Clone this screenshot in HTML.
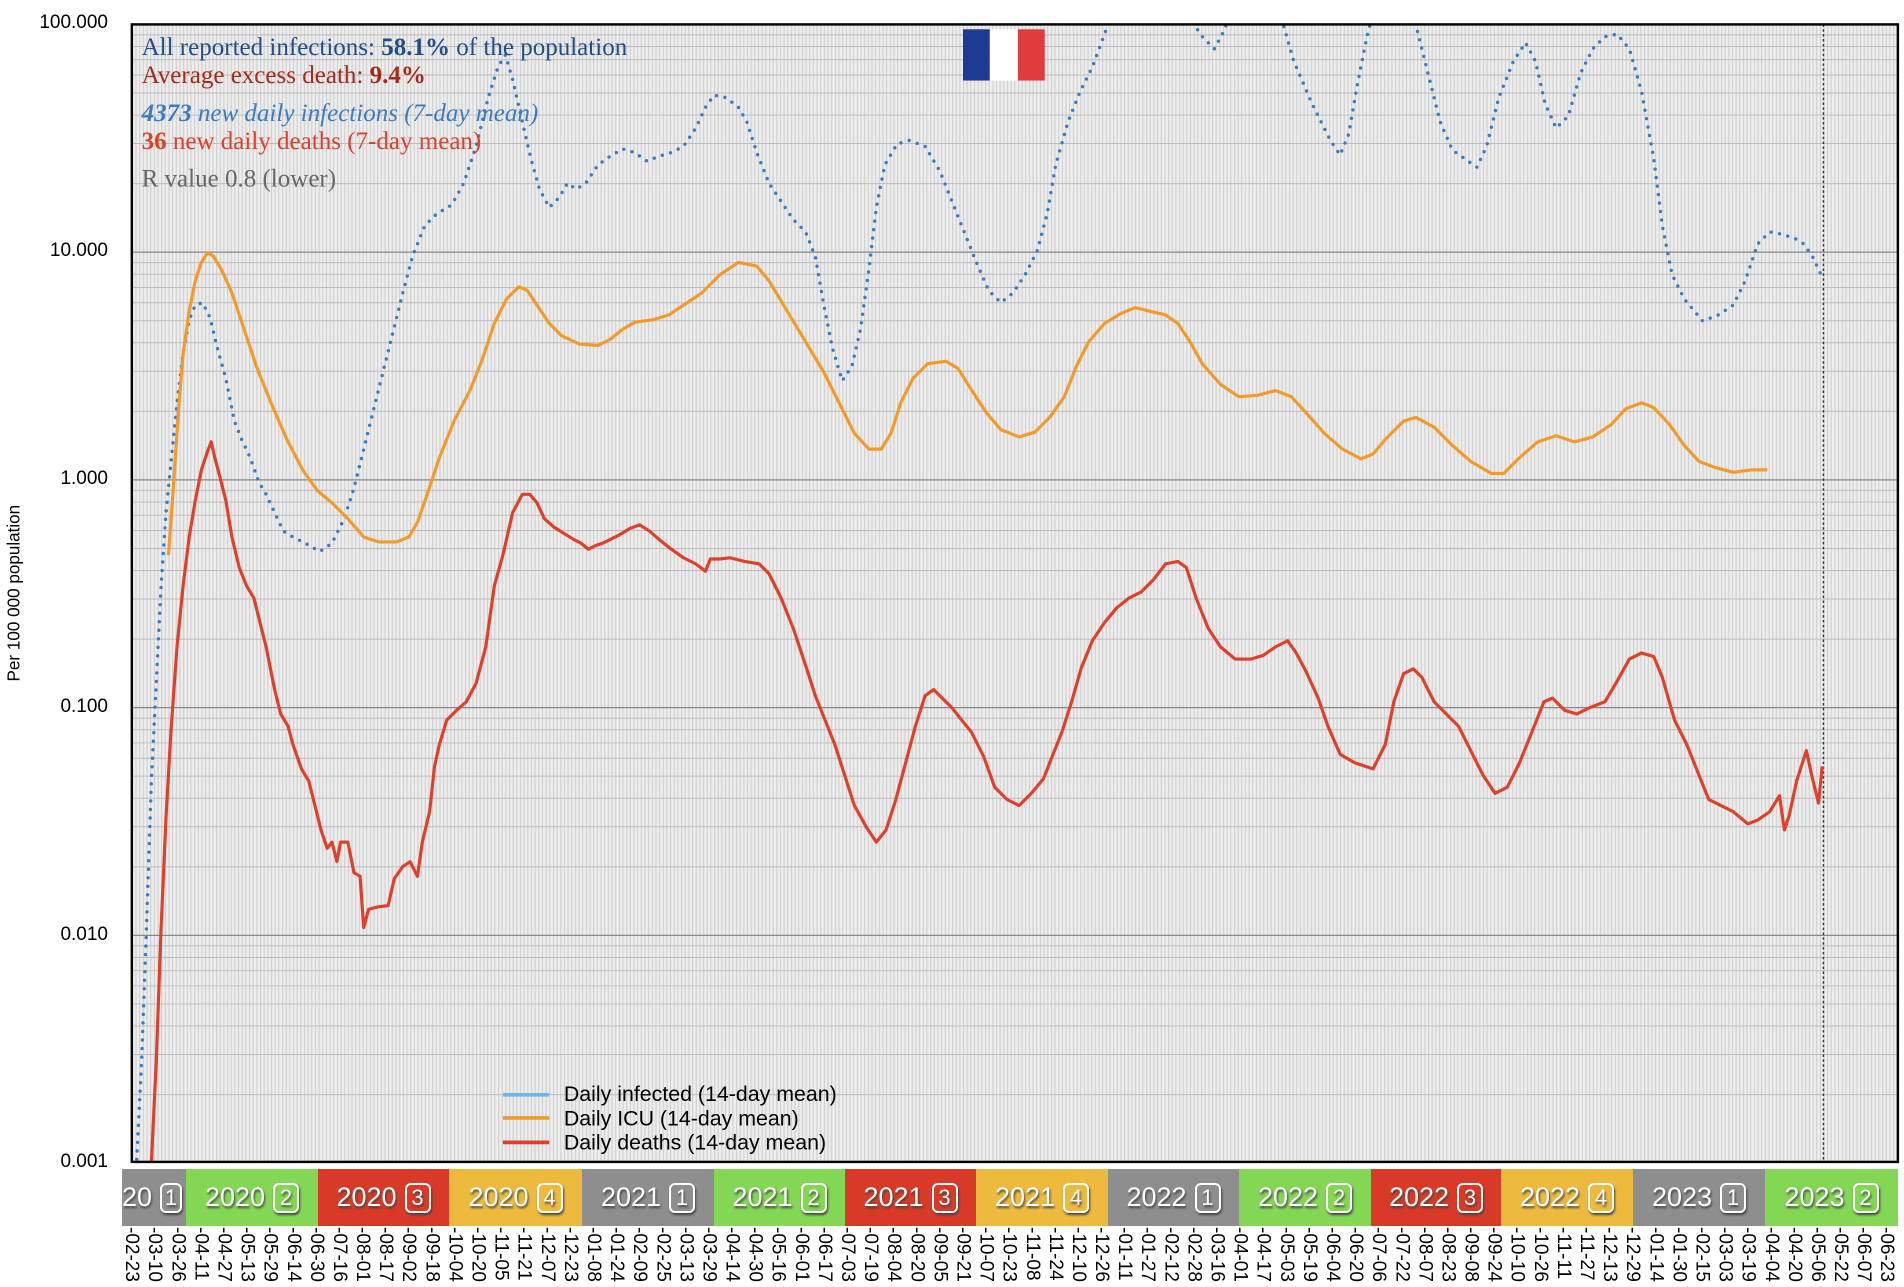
<!DOCTYPE html>
<html><head><meta charset="utf-8"><style>
body{margin:0;width:1904px;height:1272px;background:#fff;overflow:hidden;position:relative;font-family:"Liberation Sans",sans-serif}
.yl{position:absolute;right:1796px;font-size:19px;color:#000;text-align:right}
.band{position:absolute;top:1169px;height:57px;color:#fff;font-size:27px;font-weight:normal;display:flex;align-items:center;justify-content:center;text-shadow:1px 2px 2px #444;white-space:nowrap;overflow:hidden}
.band b{font-weight:normal;display:inline-block;border:2px solid #fff;border-radius:6px;width:22px;height:26px;line-height:26px;text-align:center;font-size:22px;margin-left:8px;box-shadow:1px 2px 2px #444}
.dates{position:absolute;top:1227px;left:120px;display:flex}
.dates span{width:23.1px;writing-mode:vertical-rl;font-size:19px;line-height:23.1px;height:60px;text-align:left;white-space:nowrap}
</style></head><body>
<svg width="1904" height="1272" viewBox="0 0 1560 1042.2" style="position:absolute;left:0;top:0">
<defs>
<pattern id="vs" width="3" height="10" patternUnits="userSpaceOnUse"><rect width="3" height="10" fill="#ededed"/><rect x="0" width="0.9" height="10" fill="#cfcfcf"/></pattern>
<clipPath id="cp"><rect x="108" y="20" width="1447" height="932"/></clipPath>
</defs>
<rect x="108" y="20" width="1447" height="932" fill="url(#vs)"/>
<g id="hg" stroke="#bdbdbd" stroke-width="0.8"></g>
<g stroke="#888" stroke-width="1">
<line x1="108" x2="1555" y1="206.6" y2="206.6"/><line x1="108" x2="1555" y1="393.2" y2="393.2"/><line x1="108" x2="1555" y1="579.8" y2="579.8"/><line x1="108" x2="1555" y1="766.4" y2="766.4"/>
</g>
<line x1="1494" x2="1494" y1="20" y2="952" stroke="#333" stroke-width="1.2" stroke-dasharray="2 2"/>
<g clip-path="url(#cp)" fill="none" stroke-linejoin="round">
<polyline stroke="#3a7cc4" stroke-width="2.8" stroke-linecap="round" stroke-dasharray="0 7" points="112,950 116,870 120,760 124,640 128,560 132,480 136,420 140,380 145,330 150,290 155,262 160,250 166,248 172,260 178,285 185,310 192,345 198,360 205,375 212,395 218,405 225,420 232,435 240,440 250,445 262,452 272,445 282,425 290,400 300,360 310,320 320,280 330,240 338,210 348,185 358,175 370,168 380,150 390,120 400,80 408,55 414,45 420,65 428,100 435,130 442,155 450,170 458,162 465,150 472,155 480,150 490,135 500,128 510,122 520,125 530,132 540,128 550,125 560,120 570,105 578,88 585,78 595,80 605,88 612,100 620,125 630,150 640,165 650,180 660,190 668,210 675,250 682,285 690,312 698,300 705,270 712,220 718,170 725,135 735,118 745,115 758,120 770,140 780,165 790,190 800,215 810,238 820,248 830,240 840,225 850,205 858,175 865,135 875,100 885,75 895,55 905,28 915,0 960,-20 975,15 985,30 995,40 1003,25 1015,-10 1045,-5 1050,15 1060,50 1075,85 1090,115 1098,127 1105,110 1112,70 1120,30 1128,0 1150,-10 1160,20 1170,60 1180,100 1190,123 1200,130 1210,137 1218,120 1228,80 1240,50 1250,35 1258,50 1266,85 1275,105 1285,95 1295,60 1305,40 1315,30 1325,28 1335,40 1345,75 1355,130 1362,185 1370,225 1380,245 1395,263 1408,258 1420,250 1430,230 1440,200 1450,190 1460,192 1470,195 1478,200 1485,210 1492,225"/>
<polyline stroke="#f39a2b" stroke-width="2.6" points="138,455 142,400 146,340 150,290 155,255 160,230 165,215 170,207 175,210 182,222 190,240 200,270 210,300 222,330 235,360 248,385 260,402 272,412 285,425 298,440 310,444 325,444 335,440 342,428 350,405 360,375 372,345 385,320 395,295 405,265 415,245 425,235 432,238 440,250 450,265 460,275 475,282 490,283 500,278 510,270 520,264 535,262 548,258 560,250 575,240 590,225 605,215 620,218 630,230 645,255 660,280 675,305 690,335 700,355 712,368 722,368 730,355 738,330 748,310 760,298 775,296 785,302 795,318 808,338 820,352 835,358 848,354 860,342 872,325 882,300 892,280 905,265 918,257 930,252 942,255 955,258 965,265 975,280 985,298 1000,315 1015,325 1030,324 1045,320 1058,325 1070,338 1085,355 1100,368 1115,376 1125,372 1135,360 1150,345 1160,342 1175,350 1190,365 1205,378 1222,388 1232,388 1245,375 1260,362 1275,357 1290,362 1305,358 1320,348 1332,335 1345,330 1355,334 1368,348 1380,365 1392,378 1405,383 1420,387 1435,385 1448,385"/>
<polyline stroke="#e0402a" stroke-width="2.6" points="124,953 128,870 132,760 136,670 140,600 145,530 150,480 155,440 160,410 165,385 170,370 173,362 176,375 180,390 185,410 190,440 196,465 202,480 208,490 213,510 218,530 225,565 230,585 236,595 240,610 247,630 253,640 258,660 263,680 268,695 272,690 276,706 279,690 285,690 290,715 295,718 298,760 302,745 310,743 318,742 323,720 330,710 336,706 342,718 346,690 352,665 356,628 360,610 366,590 374,582 382,575 390,560 398,530 405,480 412,455 420,420 428,405 434,405 440,412 446,425 454,432 462,437 470,442 476,445 482,450 488,447 494,445 500,442 508,438 516,433 524,430 532,435 540,442 550,450 560,457 570,462 578,468 582,458 590,458 598,457 610,460 622,462 630,470 640,490 650,515 660,545 668,570 676,590 684,610 692,635 700,660 710,678 718,690 726,680 734,655 742,625 750,595 758,570 765,565 772,572 780,580 788,590 796,600 806,620 815,645 825,655 835,660 845,650 855,638 862,620 870,600 878,575 886,547 895,525 905,510 915,498 925,490 935,485 945,475 955,462 965,460 972,465 980,490 990,515 1000,530 1012,540 1025,540 1035,537 1045,530 1055,525 1062,535 1070,550 1080,572 1088,595 1098,618 1110,625 1125,630 1135,610 1142,575 1150,552 1158,548 1165,555 1175,575 1185,585 1195,595 1205,615 1215,635 1225,650 1235,645 1245,625 1255,600 1265,575 1272,572 1282,582 1292,585 1302,580 1315,575 1325,558 1335,540 1345,535 1355,538 1362,555 1372,590 1382,610 1390,630 1400,655 1410,660 1420,665 1432,675 1440,672 1450,665 1458,652 1462,680 1466,668 1472,640 1480,615 1485,638 1490,658 1493,628"/>
</g>
<rect x="108" y="20" width="1447" height="932" fill="none" stroke="#000" stroke-width="2"/>
<g>
<rect x="789" y="24" width="22" height="42" fill="#1f3a93"/><rect x="811" y="24" width="23" height="42" fill="#fff"/><rect x="834" y="24" width="22" height="42" fill="#e03c3c"/>
</g>
<g font-family="Liberation Serif, serif" font-size="20.5">
<text x="116" y="45" fill="#1f4e8c">All reported infections: <tspan font-weight="bold">58.1%</tspan> of the population</text>
<text x="116" y="68" fill="#a52a1a">Average excess death: <tspan font-weight="bold">9.4%</tspan></text>
<text x="116" y="99" fill="#3a7cc4" font-style="italic"><tspan font-weight="bold">4373</tspan> new daily infections (7-day mean)</text>
<text x="116" y="122" fill="#e0402a"><tspan font-weight="bold">36</tspan> new daily deaths (7-day mean)</text>
<text x="116" y="153" fill="#666">R value 0.8 (lower)</text>
</g>
<g font-size="17.5" fill="#000">
<line x1="412" x2="450" y1="897" y2="897" stroke="#6ab8f0" stroke-width="3"/><text x="462" y="902">Daily infected (14-day mean)</text>
<line x1="412" x2="450" y1="916" y2="916" stroke="#f39a2b" stroke-width="3"/><text x="462" y="922">Daily ICU (14-day mean)</text>
<line x1="412" x2="450" y1="936" y2="936" stroke="#e0402a" stroke-width="3"/><text x="462" y="942">Daily deaths (14-day mean)</text>
</g>
<text transform="translate(16,486) rotate(-90)" text-anchor="middle" font-size="14">Per 100 000 population</text>
</svg>
<div class="yl" style="top:12px">100.000</div>
<div class="yl" style="top:240px">10.000</div>
<div class="yl" style="top:468px">1.000</div>
<div class="yl" style="top:696px">0.100</div>
<div class="yl" style="top:924px">0.010</div>
<div class="yl" style="top:1151px">0.001</div>
<div class="band" style="left:122px;width:64px;background:#8e8e8e;justify-content:flex-end;padding-right:4px;box-sizing:border-box">20<b>1</b></div>
<div class="band" style="left:186px;width:132px;background:#84d655">2020<b>2</b></div>
<div class="band" style="left:318px;width:131px;background:#d93a27">2020<b>3</b></div>
<div class="band" style="left:449px;width:133px;background:#eeba3e">2020<b>4</b></div>
<div class="band" style="left:582px;width:132px;background:#8e8e8e">2021<b>1</b></div>
<div class="band" style="left:714px;width:131px;background:#84d655">2021<b>2</b></div>
<div class="band" style="left:845px;width:131px;background:#d93a27">2021<b>3</b></div>
<div class="band" style="left:976px;width:132px;background:#eeba3e">2021<b>4</b></div>
<div class="band" style="left:1108px;width:131px;background:#8e8e8e">2022<b>1</b></div>
<div class="band" style="left:1239px;width:132px;background:#84d655">2022<b>2</b></div>
<div class="band" style="left:1371px;width:130px;background:#d93a27">2022<b>3</b></div>
<div class="band" style="left:1501px;width:132px;background:#eeba3e">2022<b>4</b></div>
<div class="band" style="left:1633px;width:132px;background:#8e8e8e">2023<b>1</b></div>
<div class="band" style="left:1765px;width:133px;background:#84d655">2023<b>2</b></div>
<div class="dates">
<span>-02-23</span><span>-03-10</span><span>-03-26</span><span>-04-11</span><span>-04-27</span><span>-05-13</span><span>-05-29</span><span>-06-14</span><span>-06-30</span><span>-07-16</span><span>-08-01</span><span>-08-17</span><span>-09-02</span><span>-09-18</span><span>-10-04</span><span>-10-20</span><span>-11-05</span><span>-11-21</span><span>-12-07</span><span>-12-23</span>
<span>-01-08</span><span>-01-24</span><span>-02-09</span><span>-02-25</span><span>-03-13</span><span>-03-29</span><span>-04-14</span><span>-04-30</span><span>-05-16</span><span>-06-01</span><span>-06-17</span><span>-07-03</span><span>-07-19</span><span>-08-04</span><span>-08-20</span><span>-09-05</span><span>-09-21</span><span>-10-07</span><span>-10-23</span><span>-11-08</span><span>-11-24</span><span>-12-10</span><span>-12-26</span>
<span>-01-11</span><span>-01-27</span><span>-02-12</span><span>-02-28</span><span>-03-16</span><span>-04-01</span><span>-04-17</span><span>-05-03</span><span>-05-19</span><span>-06-04</span><span>-06-20</span><span>-07-06</span><span>-07-22</span><span>-08-07</span><span>-08-23</span><span>-09-08</span><span>-09-24</span><span>-10-10</span><span>-10-26</span><span>-11-11</span><span>-11-27</span><span>-12-13</span><span>-12-29</span>
<span>-01-14</span><span>-01-30</span><span>-02-15</span><span>-03-03</span><span>-03-19</span><span>-04-04</span><span>-04-20</span><span>-05-06</span><span>-05-22</span><span>-06-07</span><span>-06-23</span>
</div>
<script>
var g=document.getElementById('hg'),L=[0.301,0.477,0.602,0.699,0.778,0.845,0.903,0.954];
for(var k=0;k<5;k++){var b=20+186.6*(k+1);for(var i=0;i<L.length;i++){var y=b-186.6*L[i];var l=document.createElementNS('http://www.w3.org/2000/svg','line');l.setAttribute('x1',108);l.setAttribute('x2',1555);l.setAttribute('y1',y);l.setAttribute('y2',y);g.appendChild(l);}}
</script>
</body></html>
